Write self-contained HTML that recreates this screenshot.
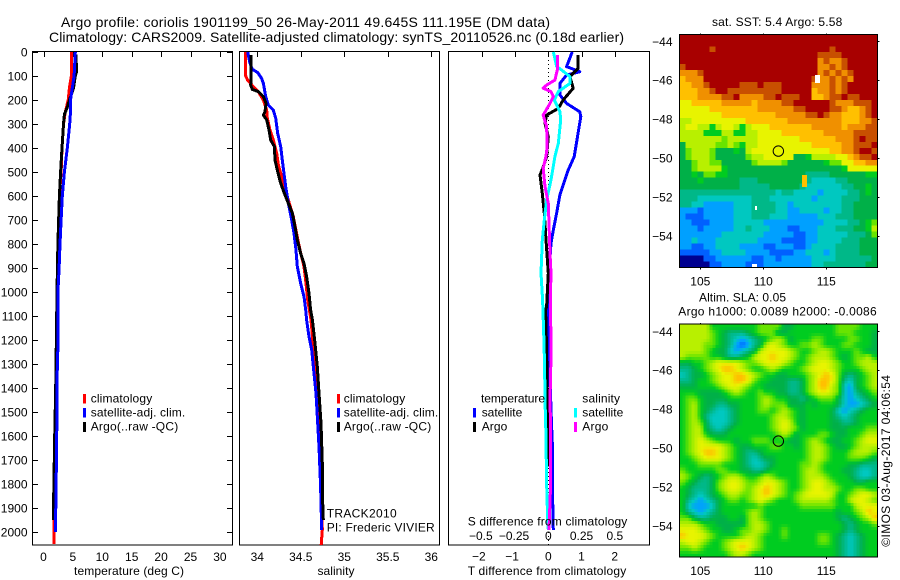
<!DOCTYPE html>
<html lang="en">
<head>
<meta charset="utf-8">
<title>Argo profile chart</title>
<style>
html,body{margin:0;padding:0;background:#fff;}
#chart{display:block;width:900px;height:580px;}
text{font-family:"Liberation Sans",sans-serif;font-size:12px;fill:#000;}
.ttl{font-size:14px;}
.lab{font-size:13px;}
.crisp{shape-rendering:crispEdges;}
</style>
</head>
<body>
<svg id="chart" xmlns="http://www.w3.org/2000/svg" width="900" height="580" viewBox="0 0 900 580">
  <g id="maps" class="crisp"></g>
  <g id="frames" class="crisp"></g>
  <g id="series" class="crisp"></g>
  <g id="ticklabels"></g>

  <text class="ttl" x="61" y="27" textLength="489" lengthAdjust="spacing">Argo profile: coriolis 1901199_50 26-May-2011 49.645S 111.195E (DM data)</text>
  <text class="ttl" x="49" y="42" textLength="575" lengthAdjust="spacing">Climatology: CARS2009. Satellite-adjusted climatology: synTS_20110526.nc (0.18d earlier)</text>

  <text x="74" y="575" textLength="110" lengthAdjust="spacing">temperature (deg C)</text>
  <text x="317.500" y="575" textLength="37" lengthAdjust="spacing">salinity</text>
  <text x="467.700" y="575" textLength="158.500" lengthAdjust="spacing">T difference from climatology</text>
  <text x="467.700" y="525.300" textLength="159.600" lengthAdjust="spacing">S difference from climatology</text>

  <g>
    <rect class="crisp" x="83" y="394" width="3" height="9.500" fill="#ff0000"/>
    <rect class="crisp" x="83" y="408" width="3" height="9.500" fill="#0000ff"/>
    <rect class="crisp" x="83" y="422" width="3" height="10" fill="#000000"/>
    <text x="90.700" y="402.700" textLength="61.500" lengthAdjust="spacing">climatology</text>
    <text x="90.700" y="416.700" textLength="94.500" lengthAdjust="spacing">satellite-adj. clim.</text>
    <text x="90.700" y="430.700" textLength="87.500" lengthAdjust="spacing">Argo(..raw -QC)</text>
  </g>
  <g>
    <rect class="crisp" x="337" y="394" width="3" height="9.500" fill="#ff0000"/>
    <rect class="crisp" x="337" y="408" width="3" height="9.500" fill="#0000ff"/>
    <rect class="crisp" x="337" y="422" width="3" height="10" fill="#000000"/>
    <text x="343.700" y="402.700" textLength="61.500" lengthAdjust="spacing">climatology</text>
    <text x="343.700" y="416.700" textLength="94.500" lengthAdjust="spacing">satellite-adj. clim.</text>
    <text x="343.700" y="430.700" textLength="87.500" lengthAdjust="spacing">Argo(..raw -QC)</text>
    <text x="326.700" y="517.700" textLength="70" lengthAdjust="spacing">TRACK2010</text>
    <text x="326.700" y="531.700" textLength="108" lengthAdjust="spacing">PI: Frederic VIVIER</text>
  </g>
  <g>
    <text x="481" y="402.700" textLength="64" lengthAdjust="spacing">temperature</text>
    <text x="582.300" y="402.700" textLength="37.700" lengthAdjust="spacing">salinity</text>
    <rect class="crisp" x="473" y="408" width="3" height="9.500" fill="#0000ff"/>
    <rect class="crisp" x="473" y="422" width="3" height="10" fill="#000000"/>
    <rect class="crisp" x="574" y="408" width="3" height="9.500" fill="#00ffff"/>
    <rect class="crisp" x="574" y="422" width="3" height="10" fill="#ff00ff"/>
    <text x="481.700" y="416.700" textLength="40.600" lengthAdjust="spacing">satellite</text>
    <text x="481.700" y="430.700" textLength="25.600" lengthAdjust="spacing">Argo</text>
    <text x="582.300" y="416.700" textLength="41" lengthAdjust="spacing">satellite</text>
    <text x="582.300" y="430.700" textLength="26" lengthAdjust="spacing">Argo</text>
  </g>

  <text x="712" y="26" textLength="130.300" lengthAdjust="spacing">sat. SST: 5.4 Argo: 5.58</text>
  <text x="699" y="301.700" textLength="87" lengthAdjust="spacing">Altim. SLA: 0.05</text>
  <text x="678.300" y="315.700" textLength="198.400" lengthAdjust="spacing">Argo h1000: 0.0089 h2000: -0.0086</text>
  <text transform="translate(890 546.700) rotate(-90)" x="0" y="0" textLength="171.700" lengthAdjust="spacing">©IMOS 03-Aug-2017 04:06:54</text>
</svg>

<script>
// ---------- temperature panel ----------
const tempClimDepth = [0,100,150,200,250,300,400,500,600,800,1000,1300,1600,1950,2050];
const tempClimValue = [4.8,4.75,4.4,4.2,3.7,3.4,3.15,3.0,2.7,2.5,2.3,2.15,1.95,1.8,1.8];
const tempSatDepth = [0,100,200,250,300,400,500,600,700,800,900,1000,1100,1200,1300,1500,1700,1850,2000];
const tempSatValue = [5.4,5.2,4.6,4.6,4.45,4.05,3.55,3.2,3.0,2.8,2.65,2.45,2.5,2.5,2.35,2.3,2.2,2.13,2.0];
const tempArgoDepth = [10,80,100,150,200,230,260,300,400,500,600,800,1000,1100,1400,1600,1850,1950];
const tempArgoValue = [5.5,5.65,5.4,5.1,4.4,4.05,3.55,3.4,3.15,2.9,2.7,2.45,2.3,2.25,2.08,1.9,1.73,1.73];

// ---------- salinity panel ----------
const salClimDepth = [0,96,117,144,165,200,242,276,325,367,422,471,519,575,617,686,756,825,894,964,1033,1116,1227,1352,1477,1700,1991,2054];
const salClimValue = [33.862,33.862,33.889,33.954,34.012,34.069,34.108,34.115,34.146,34.184,34.223,34.242,34.280,34.318,34.357,34.414,34.452,34.491,34.537,34.560,34.579,34.617,34.644,34.682,34.709,34.732,34.747,34.735];
const salSatDepth = [0,47,72,85,110,131,186,221,242,276,339,394,464,506,561,631,700,756,825,894,964,1019,1075,1116,1186,1241,1339,1422,1547,1644,1811,1991];
const salSatValue = [33.890,33.916,33.943,34.004,34.050,34.070,34.096,34.127,34.184,34.211,34.234,34.269,34.292,34.307,34.326,34.357,34.395,34.422,34.445,34.460,34.499,34.537,34.556,34.567,34.594,34.625,34.652,34.675,34.694,34.709,34.728,34.740];
const salArgoDepth = [12,117,138,156,165,186,214,249,263,283,325,367,394,450,499,547,596,631,672,728,783,839,881,936,1006,1075,1116,1214,1311,1422,1547,1714,1866,1950];
const salArgoValue = [33.928,33.928,33.924,33.943,34.012,34.070,34.100,34.089,34.070,34.108,34.135,34.154,34.196,34.204,34.234,34.269,34.318,34.357,34.403,34.433,34.460,34.499,34.537,34.567,34.594,34.613,34.633,34.663,34.690,34.709,34.732,34.747,34.751,34.759];

// ---------- difference panel ----------
const dTSatDepth = [0,61,82,96,131,179,214,249,269,353,436,492,596,672,742,797,922,1061,1241,1561,1658,1797,1991];
const dTSatValue = [0.72,0.55,0.95,0.55,0.35,0.35,0.55,0.95,0.98,0.88,0.78,0.60,0.35,0.25,0.15,0.08,0.02,-0.02,0.02,0.10,0.13,0.12,0.15];
const dTArgoDepth = [12,68,103,151,200,235,263,297,353,436,478,513,589,672,783,922,1061,1075,1241,1727];
const dTArgoValue = [0.90,0.90,0.65,0.75,0.45,0.30,-0.05,-0.10,0,-0.05,-0.15,-0.25,-0.18,-0.12,-0.07,0,-0.05,-0.08,-0.05,0];
const dSSatDepth = [0,61,75,103,131,165,200,249,283,381,436,533,617,700,783,922,1033,1200,1311,1450,1589,1797,1936,1991];
const dSSatValue = [0.038,0.063,0.10,0.163,0.163,0.075,0.045,0.088,0.093,0.075,0.05,0.02,-0.013,-0.03,-0.045,-0.055,-0.043,-0.033,-0.028,-0.025,-0.018,-0.013,-0.005,0];
const dSArgoDepth = [12,75,117,138,151,165,186,214,263,311,394,436,485,561,631,714,839,922,1033,1200,1269,1450,1589,1839,1991];
const dSArgoValue = [0.068,0.068,0.05,-0.013,-0.038,0.02,0.038,0.013,-0.038,-0.013,-0.008,-0.018,-0.038,-0.025,0,0.005,0.013,0.02,0.015,0.02,0.02,0.013,0.018,0.015,0.005];

// ---------- tick labels ----------
const depthTicks = [0,100,200,300,400,500,600,700,800,900,1000,1100,1200,1300,1400,1500,1600,1700,1800,1900,2000];
const tempTicks = [0,5,10,15,20,25,30];
const salTicks = [34,34.5,35,35.5,36];
const dTTicks = [-2,-1,0,1,2];
const dSTicks = [-0.5,-0.25,0,0.25,0.5];
const lonTicks = [105,110,115];
const latTicks = [-44,-46,-48,-50,-52,-54];
const profileLon = 111.195;
const profileLat = -49.645;

// ---------- map grids: one letter per cell, each letter a colour level (low -> high) ----------
const mapLevels = 'abcdefgnhijklm';
const sstGrid = [
"mmmmmmmmmm mmmmmmmmmm mmmmmmmmmmmmm",
"mmmmmmmmmm mmmmmmmmmm mmmmmmmmmmmmm",
"mmmmmlmmmm mmmmmmmmmm mmmmmlmmmmmmm",
"mmmmmmmmmm mmmmmmmmmm mmmllllmmmmmm",
"mmmmmmmmmm mmmmmmmmmm mmmklkklmmmmm",
"lmmmmmmmmm mmmmmmmmmm mmmkklklmmmmm",
"kkklmmmmmm mmmmmmmmmm mmmklklklmmmm",
"jkkkmmmmmm mmmmmmmmmm mmlkklklkmmmm",
"jjkklmmmmm lllmlllmmm mmkkklklmmmmm",
"jjjkklmmll lllllllmmm mmjkklklmmmmm",
"jjjkkkkllm kkkkllmlll mmjjkllmllmmm",
"iijjjjjkkk kkjkkkkllm mmmmmlkkklllm",
"iiiiijjjjj jjjkkkkkkl lmmmmllkjjklm",
"iiiiiiijjj jjjjjjkkkk kllmlkkjjjklm",
"hhiiiiiiii ijjjjjjjkk kkkkkkkjjjkkl",
"hiihhghiih ghiiijjjjj jjkkkkkjkkkll",
"hhhhggghhg ghhiiiijjj jjjjkkkkkllll",
"hhhhhhhnhh hhhiiiiiii jjjjjjkkklmll",
"fhhhhhnnhn ghhiiiiiii iijjjjjkklllm",
"fnhhhnfffg fhiiiiiiii iiiiijjkklmml",
"fnhhhnffff fnhhiiiiif fghhhhiijkllm",
"ffnhhnnfff ffnhhhhnff ffffgnniijjkk",
"ffnhhhhgff ffffffffff fffffffgiiiii",
"ffgfnnggff ffffffffff feeeeffffffgg",
"fffgffffff eeefffffff feddddeefffff",
"ffffffffff eeeeefffff eddddddeeffgf",
"eeeeeeeeee eeeeeedeed dddcddddeefgf",
"eeeddddddd ddeeeddddd ddcddddeeefff",
"eeddcccccd ddeeeeddcd dddddddeeffff",
"cccbcccccd ddeeeeddcc ddddcddeeffff",
"cbbbcccccd ddeeedddcc cccdddeeeffff",
"ccbbbccccd ddddcccccc ccccddddeefgn",
"cccbcccccd dedddcccbb cccdddeeeffgh",
"cccccccddd ddddcccccb bccdddddeeefn",
"ccdcccdddd dddccccbbb bccddddeeefff",
"ccbbccdddd ccccbbcccb bcddddeeeefff",
"bbbbbccddd dccccbbbbc cdddcdeeeefff",
"aaaabbcccc ccbbccbccc ccddddeeeeeef",
"aaaaabbccc cbbbcccccc ccddeeeeeeeff"
];
const slaGrid = [
"hhhhhggggggggnnnnffgggggggnnnnggg",
"hhhhhngfeeefgnnnffggggggggnnngggf",
"hhhhhngfedcdefgnhnfgggnnggggnnggf",
"hhhhnngfecbcefhihnggnnhngggnngggf",
"hhhhngffdcdefhiiiihnggnhhngggngff",
"hnnnnggfeefghiijiihngnhhhngfgnnhg",
"ffggnhiiiihnnhiiihnggnhiihnggnhhh",
"eefgnhijjihnggnhngggnhiiihngggnhh",
"deffgnhiijjihnggffgggnhijinfefgnh",
"eefggnhiijjinggfffeefnhjjinedfgnh",
"fffgggnhiihnggffffeefnhjjhndcfgnh",
"gggffffgnhnggnggffeefnhiihndcefgn",
"gnngffffgggggnhnggffefgnnnfdcdefg",
"gnhgffeeffgggnhnnnfffgfgggfdccdef",
"gnhgfeddefgggnngnhngfggggfdcdefgg",
"gnhgedddefgggggnhhngfggggfedefggg",
"gnhnfdddefgggggnhihgfggggffeefggg",
"gnhhfedefggggggnhihnfggggfffgggnn",
"gnhhgfffggggggggnhnfgggnngffggnhh",
"gnhihngggfggnnngggffgnhngffggnhii",
"gnhiiiihngffgggnnggfgnhhngffgnhhh",
"gnhijjihngfeefgggggggnhhngggnhhhn",
"ggnhiiihngfedeffgggggnhhngggnnngf",
"gggnnnngggfeddefggggnnhnggggffeee",
"ngggggnnggffeefgggggnhhngggffedde",
"hngfefgnhhnggnhnggggnhhhngggfedde",
"ngfeefnhiihnnhiihnggnhiihngggffgg",
"gfeeefnhiihnhijihnggnhiihhnggnngg",
"gfedefgnhhnnhijihngnhiiiihggnhiih",
"gedcdefgnngnhihngggnhhhhhngghiihn",
"gdcccdfggggggnggggggnnnnnngggh iii",
"gedcdefggggnhnggggggggggggfggnhji",
"nnfeefffggfnhnggggggggggggfefgnhj",
"hhhnggfffffnhhnggggggggggggfefggn",
"iiihnggffgnnhhnggngggggggggfefggg",
"jiiihnggggnhhngggngggggnngfedefgg",
"hiihnggnhiiihngggggggggnngfedefgg",
"nnhngggnhijihnggggggggggggfedefgg",
"ggggggggnhhnggggggggggggggfedefgg"
];
// isolated cells on the SST map: lon range, lat range, level ('w' = no data)
const sstSpotLonMin = [114.1,113.07,109.34,109.1];
const sstSpotLonMax = [114.5,113.47,109.5,109.5];
const sstSpotLatMax = [-45.73,-50.87,-52.47,-55.45];
const sstSpotLatMin = [-46.14,-51.49,-52.67,-55.6];
const sstSpotLevel = ['w','j','w','w'];

// ---------- scales ----------
const NS = 'http://www.w3.org/2000/svg';
const depthY = d => 52 + d * 0.24;
const tempX = t => 43.5 + t * 5.88;
const salX = s => 257.3 + (s - 34) * 87;
const dTX = t => 548.3 + t * 33.2;
const dSX = s => 548.3 + s * 133;
const lonX = lon => 700.3 + (lon - 105) * 12.6;
const latOffset = lat => (-44 - lat) * 19.45;
const MAP_TOPS = [34.3, 324];
const MAP_LAT44 = [41.3, 331.3];
const MAP_LEFT = 679.3, MAP_RIGHT = 877.7, MAP_H = 233;
const levelColors = ['#000090','#0060ff','#00a0ff','#00c8c0','#00b888','#00b048','#00cc20','#68e400','#b8f000','#e8f400','#ffc000','#f09000','#c85000','#a80000'];

function el(tag, attrs, parent) {
  const n = document.createElementNS(NS, tag);
  for (const k in attrs) n.setAttribute(k, attrs[k]);
  parent.appendChild(n);
  return n;
}
const frames = document.getElementById('frames');
const series = document.getElementById('series');
const labels = document.getElementById('ticklabels');
const mapsG = document.getElementById('maps');

function hline(x1, y, x2, y2) {
  const l = el('line', {x1: x1, y1: y, x2: x2, y2: y2, stroke: '#000', 'stroke-width': 1}, frames);
  
  
}
function frame(x, y, w, h, name) {
  const r = el('rect', {x: x, y: y, width: w, height: h, fill: 'none', stroke: '#000', 'stroke-width': 1}, frames);
  
  
}
function label(str, x, y, anchor) {
  const t = el('text', {x: x, y: y, 'text-anchor': anchor || 'middle'}, labels);
  t.textContent = str;
  
  
}
function fmtMinus(v) { return String(v).replace('-', '\u2212'); }

function line(depths, values, xf, color, name, width) {
  const pts = depths.map((d, i) => xf(values[i]).toFixed(1) + ',' + depthY(d).toFixed(1)).join(' ');
  const p = el('polyline', {points: pts, fill: 'none', stroke: color, 'stroke-width': width || 3, 'stroke-linejoin': 'round'}, series);
  
  
}

// ---------- profile panels ----------
frame(32.5, 51.5, 200, 493.5, 'temperature-axes');
frame(239.5, 51.5, 200, 493.5, 'salinity-axes');
frame(448.5, 51.5, 201, 493.5, 'difference-axes');

depthTicks.forEach(d => {
  const y = Math.round(depthY(d)) + 0.5;
  hline(32, y, 38, y);
  hline(227, y, 233, y);
  label(d, 27.5, depthY(d) + 4.5, 'end');
});
tempTicks.forEach(t => {
  const x = Math.round(tempX(t)) + 0.5;
  hline(x, 52, x, 57);
  label(t, tempX(t), 561);
});
salTicks.forEach(s => {
  const x = Math.round(salX(s)) + 0.5;
  hline(x, 52, x, 57);
  label(s, salX(s), 561);
});
dTTicks.forEach(t => {
  const x = Math.round(dTX(t)) + 0.5;
  hline(x, 52, x, 57);
  label(fmtMinus(t), dTX(t) - (t === -2 || t === -1 ? 3 : 0), 560.3);
});
dSTicks.forEach(s => {
  label(fmtMinus(s), dSX(s) + (s < 0 ? -1 : 0), 540);
});

// zero reference line in the difference panel
const zero = el('line', {x1: dTX(0), y1: 52, x2: dTX(0), y2: 545, stroke: '#000', 'stroke-width': 1, 'stroke-dasharray': '1 3'}, series);



line(tempClimDepth, tempClimValue, tempX, '#ff0000', 'temperature-climatology-line');
line(tempArgoDepth, tempArgoValue, tempX, '#000000', 'temperature-argo-line');
line(tempSatDepth, tempSatValue, tempX, '#0000ff', 'temperature-satellite-line');

line(salClimDepth, salClimValue, salX, '#ff0000', 'salinity-climatology-line');
line(salSatDepth, salSatValue, salX, '#0000ff', 'salinity-satellite-line');
line(salArgoDepth, salArgoValue, salX, '#000000', 'salinity-argo-line');

line(dTSatDepth, dTSatValue, dTX, '#0000ff', 'difference-t-satellite-line');
line(dTArgoDepth, dTArgoValue, dTX, '#000000', 'difference-t-argo-line');
line(dSSatDepth, dSSatValue, dSX, '#00ffff', 'difference-s-satellite-line');
line(dSArgoDepth, dSArgoValue, dSX, '#ff00ff', 'difference-s-argo-line');

// ---------- maps ----------
function parseGrid(grid) {
  return grid.map(row => row.replace(/\s/g, '').split('').map(ch => mapLevels.indexOf(ch)));
}
function levelColor(v) {
  const i = Math.max(0, Math.min(levelColors.length - 2, Math.floor(v)));
  const t = Math.max(0, Math.min(1, v - i));
  const a = levelColors[i], b = levelColors[i + 1];
  const mix = k => Math.round(parseInt(a.substr(k, 2), 16) * (1 - t) + parseInt(b.substr(k, 2), 16) * t);
  return 'rgb(' + mix(1) + ',' + mix(3) + ',' + mix(5) + ')';
}
// blocky cells: each grid value paints one rectangle
function drawBlocks(grid, idx) {
  const top = MAP_TOPS[idx];
  const g = parseGrid(grid);
  const cw = (MAP_RIGHT - MAP_LEFT) / 33;
  const ch = MAP_H / g.length;
  g.forEach((row, r) => {
    row.forEach((v, c) => {
      const cell = el('rect', {x: (MAP_LEFT + c * cw).toFixed(2), y: (top + r * ch).toFixed(2), width: (cw + 0.4).toFixed(2), height: (ch + 0.4).toFixed(2), fill: levelColors[v]}, mapsG);
      
      
    });
  });
}
// smooth field: grid values are blended across half-cell steps
function drawSmooth(grid, idx) {
  const top = MAP_TOPS[idx];
  const g = parseGrid(grid);
  const nR = g.length, nC = 33;
  const cw = (MAP_RIGHT - MAP_LEFT) / nC;
  const ch = MAP_H / nR;
  const at = (r, c) => g[Math.max(0, Math.min(nR - 1, r))][Math.max(0, Math.min(nC - 1, c))];
  for (let sr = 0; sr < nR * 2; sr++) {
    for (let sc = 0; sc < nC * 2; sc++) {
      const fr = (sr + 0.5) / 2 - 0.5, fc = (sc + 0.5) / 2 - 0.5;
      const r0 = Math.floor(fr), c0 = Math.floor(fc);
      const dr = fr - r0, dc = fc - c0;
      const v = at(r0, c0) * (1 - dr) * (1 - dc) + at(r0, c0 + 1) * (1 - dr) * dc + at(r0 + 1, c0) * dr * (1 - dc) + at(r0 + 1, c0 + 1) * dr * dc;
      const cell = el('rect', {x: (MAP_LEFT + sc * cw / 2).toFixed(2), y: (top + sr * ch / 2).toFixed(2), width: (cw / 2 + 0.4).toFixed(2), height: (ch / 2 + 0.4).toFixed(2), fill: levelColor(v)}, mapsG);
      
      
    }
  }
}
drawBlocks(sstGrid, 0);
drawSmooth(slaGrid, 1);

sstSpotLevel.forEach((lv, i) => {
  const x1 = lonX(sstSpotLonMin[i]), x2 = lonX(sstSpotLonMax[i]);
  const y1 = MAP_LAT44[0] + latOffset(sstSpotLatMax[i]);
  const y2 = MAP_LAT44[0] + latOffset(sstSpotLatMin[i]);
  const fill = lv === 'w' ? '#ffffff' : levelColors[mapLevels.indexOf(lv)];
  const s = el('rect', {x: x1, y: y1, width: x2 - x1, height: y2 - y1, fill: fill}, mapsG);
  
  
});

[0, 1].forEach(i => {
  const top = MAP_TOPS[i];
  frame(MAP_LEFT, top, MAP_RIGHT - MAP_LEFT, MAP_H, i === 0 ? 'sst-map-frame' : 'sla-map-frame');
  latTicks.forEach(lat => {
    const yy = MAP_LAT44[i] + latOffset(lat);
    const y = Math.round(yy) + 0.5;
    hline(MAP_RIGHT, y, MAP_RIGHT + 2, y);
    label(fmtMinus(lat), 672.5, yy + 4.5, 'end');
  });
  lonTicks.forEach(lon => {
    const x = Math.round(lonX(lon)) + 0.5;
    hline(x, top - 1, x, top);
    hline(x, top + MAP_H, x, top + MAP_H + 2);
    label(lon, lonX(lon), top + MAP_H + 18);
  });
  const m = el('circle', {cx: lonX(profileLon), cy: MAP_LAT44[i] + latOffset(profileLat), r: 5.2, fill: 'none', stroke: '#000', 'stroke-width': 1}, labels);
  
  
});
</script>
</body>
</html>
